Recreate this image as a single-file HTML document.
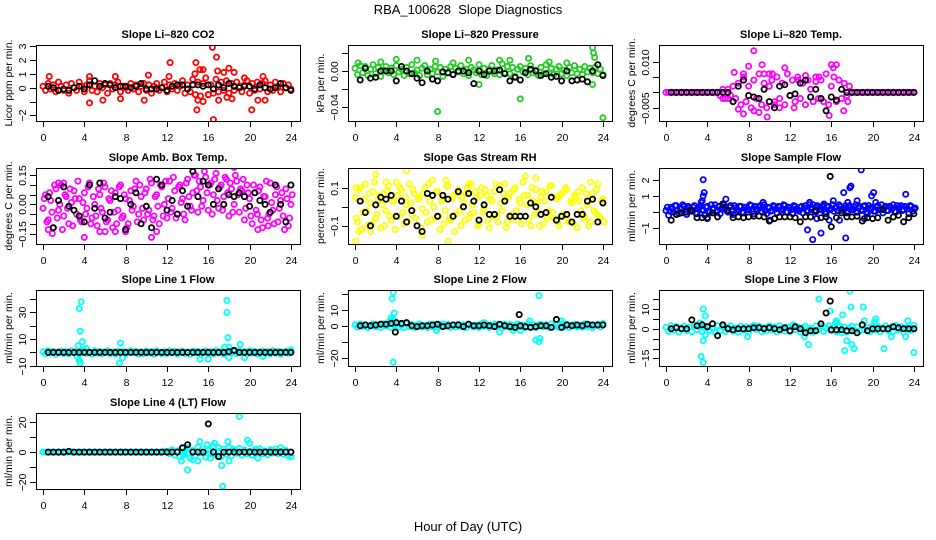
<!DOCTYPE html>
<html><head><meta charset="utf-8"><title>RBA_100628 Slope Diagnostics</title>
<style>
html,body{margin:0;padding:0;background:#fff;}
svg{display:block;font-family:"Liberation Sans",Arial,sans-serif;}
</style></head>
<body>
<svg id="chart" width="936" height="540" viewBox="0 0 936 540">
<text x="468" y="14" text-anchor="middle" font-size="13">RBA_100628&#160; Slope Diagnostics</text>
<text x="468" y="531" text-anchor="middle" font-size="13">Hour of Day (UTC)</text>
</svg>
<script>
// ---------- shared x tick labels ----------
const xTicks = [0,4,8,12,16,20,24];
// ---------- Panel 1: CO2 ----------
const co2Main = [0.1,-0.2,0.3,-0.1,0.2,-0.3,0.4,0.1,-0.2,0.2,-0.4,0.3,0.0,-0.2,0.4,0.1,-0.3,0.2,0.5,-0.2,
0.1,-0.3,0.3,0.0,0.2,-0.4,0.3,-0.1,0.2,0.4,-0.3,0.1,0.0,-0.2,0.3,-0.1,0.2,-0.3,0.1,0.3,
-0.2,0.2,-0.4,0.1,0.3,-0.2,0.0,0.4,-0.3,0.2,-0.1,0.3,-0.2,0.1,0.5,-0.4,0.2,-0.3,0.6,-0.5,
0.4,-0.6,0.3,0.7,-0.5,0.2,-0.4,0.6,-0.3,0.4,-0.2,0.5,-0.4,0.3,-0.2,0.4,0.1,-0.3,0.2,0.5,
-0.4,0.3,-0.2,0.4,-0.1,0.3,0.5,-0.3,0.2,-0.2,0.4,0.1,-0.3,0.3,0.0,0.2,-0.1];
const co2OutX = [0.6,4.5,4.5,5.8,7,7.5,9.8,10.2,12.3,12.2,14.7,14.8,14.9,15.2,15.5,15,16.4,16.5,16.8,16.9,17,17.5,18,18.3,18.5,20.2,20.8,21.3,21.5,19.5,15.5,16,17.8];
const co2OutY = [0.8,-1.1,0.8,-0.9,0.8,-0.8,-0.9,0.9,1.8,0.8,1.0,1.8,-1.6,1.3,1.3,-0.9,2.9,-2.3,2.2,1.2,-0.9,1.1,1.4,-0.8,1.1,-1.6,-0.9,0.8,-0.9,0.7,-1.0,-0.5,-0.7];
const co2Black = [0.1,0.0,-0.2,-0.1,-0.2,0.0,0.1,-0.1,0.2,0.5,0.1,0.3,0.2,0.0,0.1,0.1,0.0,0.1,0.3,-0.1,-0.1,-0.1,0.0,-0.2,0.1,0.2,0.2,-0.1,0.2,0.2,0.1,0.2,-0.1,0.2,0.0,0.3,0.1,0.0,0.1,0.1,-0.1,0.2,0.0,-0.1,0.0,0.3,0.0,-0.2];
// ---------- Panel 2: Pressure ----------
const presMain = [.003,-.004,.006,-.002,.005,-.005,.002,.007,-.003,.004,-.006,.001,.005,-.002,.003,-.004,.006,-.001,.002,-.005,
.004,-.003,.007,-.002,.001,-.005,.003,.006,-.004,.002,-.003,.005,-.001,.004,-.006,.002,-.002,.005,-.004,.003,
-.001,.006,-.003,.002,-.005,.004,.001,-.002,.007,-.004,.003,-.005,.002,.006,-.003,.001,-.004,.008,-.002,.005,
-.003,.004,-.006,.002,.005,-.001,.003,-.004,.006,-.002,.001,-.005,.004,-.003,.007,-.002,.003,-.004,.002,.005,
-.003,.001,-.005,.004,-.002,.006,-.003,.002,-.004,.005,-.001,.003,-.002,.004,-.003,.002,-.004];
const presOutX = [8,12,16,24,23,23.1,23.2,23,4,7.8,11,15,16.8,18.8,6,14,0.3,2.5,9.5,20.5];
const presOutY = [-.045,-.015,-.031,-.052,.026,.02,.015,-.015,.013,.011,.012,.012,.014,.01,.012,.012,.009,.01,.009,.009];
const presBlack = [-.01,.003,-.008,-.007,0,0,0,-.011,.005,0,-.003,-.008,-.013,0,-.009,-.011,-.001,-.002,-.004,0,0,-.002,-.014,0,-.004,0,0,.001,-.003,-.011,-.007,-.01,-.002,.002,0,-.005,-.003,-.007,-.006,-.011,0,-.011,-.01,-.009,-.012,0,.007,-.005];
// ---------- Panel 3: Li-820 Temp ----------
const tempMain = [0,0,0,0,0,0,0,0,0,0,0,0,0,0,0,0,0,0,0,0,
0,-0.001,0.001,-0.002,0.001,-0.001,0.002,-0.002,
0.003,-0.004,0.005,-0.003,0.002,-0.005,0.004,-0.002,0.006,-0.004,0.003,-0.005,0.002,0.004,-0.003,0.005,-0.002,0.003,-0.004,0.006,-0.001,0.004,-0.003,0.005,-0.002,0.003,-0.004,0.004,0.001,-0.003,0.005,-0.002,0.004,-0.003,0.006,-0.004,0.002,0.005,-0.003,0.004,-0.002,0.003,-0.001,0.002,
0,0,0,0,0,0,0,0,0,0,0,0,0,0,0,0,0,0,0,0,0,0,0,0,0];
const tempOutX = [8.5,6.6,7.5,9.3,9.5,10,10.3,13.5,16,16.5,16.2,7,7.5,8.5,9,9.8,10.5,12.4,15.8,17.2,8,11.5,14.5,11,12.8,14.8,5.5,6,17.6];
const tempOutY = [0.0135,0.0065,0.006,0.009,0.006,0.006,0.006,0.0055,0.009,0.009,0.008,-0.0055,-0.007,-0.006,-0.0065,-0.008,-0.004,-0.005,-0.0075,-0.006,0.0085,0.008,0.0035,-0.005,0.004,0.005,-0.002,-0.002,-0.003];
const tempBlack = [0,0,0,0,0,0,0,0,0,0,0,0,-0.003,0.002,0.004,-0.001,-0.0015,-0.002,0.001,-0.003,-0.005,0.002,0.0025,-0.001,-0.0005,0.003,0.004,-0.0015,0.001,-0.002,-0.006,-0.0015,-0.0025,0.001,0,0,0,0,0,0,0,0,0,0,0,0,0,0];
// ---------- Panel 4: Amb Box Temp ----------
const ambMain = [-0.02,0.05,-0.08,0.02,-0.12,0.08,-0.03,0.1,-0.06,0.04,-0.1,0.01,0.07,-0.05,0.03,-0.09,0.06,-0.02,0.11,-0.07,
0.0,-0.11,0.05,-0.04,0.09,-0.08,0.02,-0.12,0.06,-0.03,0.1,-0.06,0.03,-0.1,0.07,-0.01,0.12,-0.05,0.04,-0.08,
0.08,-0.03,0.11,-0.06,0.05,-0.1,0.09,0.0,-0.07,0.12,-0.02,0.07,-0.05,0.1,0.03,-0.08,0.13,-0.01,0.06,0.15,
-0.04,0.09,0.02,0.14,-0.03,0.11,0.05,0.16,-0.02,0.1,0.04,0.13,-0.06,0.08,0.0,0.12,-0.04,0.07,-0.08,0.1,
0.03,-0.1,0.06,-0.05,0.09,-0.12,0.04,-0.07,0.11,-0.03,0.05,-0.09,0.02,-0.06,0.08,-0.11,0.0];
const ambExtra = [0.03,-0.09,0.06,-0.04,0.1,-0.07,0.0,-0.13,0.05,-0.02,0.08,-0.11,0.03,0.12,-0.08,0.01,-0.05,0.09,-0.1,0.04,
-0.06,0.08,-0.02,0.11,-0.09,0.03,0.07,-0.04,-0.1,0.09,-0.07,0.05,-0.12,0.02,-0.03,0.08,-0.09,0.1,-0.02,0.06,
-0.05,0.13,-0.08,0.04,-0.01,0.1,-0.06,0.12,0.03,-0.04,0.14,-0.07,0.09,0.01,-0.05,0.11,0.04,-0.03,0.15,0.07,
0.12,-0.01,0.17,0.06,0.1,-0.05,0.13,0.02,0.09,-0.03,0.14,0.06,0.11,-0.04,0.15,0.05,0.08,0.13,-0.02,0.06,
-0.06,0.1,-0.03,0.07,-0.08,0.04,0.12,-0.05,0.01,-0.1,0.09,-0.02,0.06,-0.13,0.03,-0.07,0.05];
const ambOutX = [4,5.5,6,2,1.5,0.5,10.5,11,8,7,18.5,20.8,22.5,21.8,0.9];
const ambOutY = [-0.17,-0.14,-0.14,0.11,0.11,-0.13,-0.17,-0.14,-0.14,-0.14,0.19,-0.13,0.1,-0.11,-0.15];
const ambBlack = [0.04,-0.12,0.02,0.09,-0.01,-0.03,-0.06,-0.09,0.1,-0.02,0.11,-0.07,-0.04,0.04,0.03,-0.13,0.0,0.06,-0.1,-0.01,-0.12,0.13,0.1,-0.03,0.02,-0.05,0.07,-0.01,0.17,0.04,0.12,0.1,0.0,0.08,0.0,0.05,0.04,0.06,0.04,-0.01,0.06,0.02,0.0,-0.04,0.1,0.0,-0.09,0.1];
// ---------- Panel 5: Gas Stream RH ----------
const rhMain = [0.05,-0.08,0.1,-0.03,0.12,-0.1,0.02,0.08,-0.06,0.04,-0.11,0.07,-0.02,0.11,-0.07,0.03,0.13,-0.05,0.09,-0.09,
0.01,0.12,-0.04,0.07,-0.1,0.05,-0.01,0.1,-0.08,0.03,0.14,-0.06,0.08,-0.12,0.04,-0.02,0.11,-0.07,0.06,-0.04,
0.09,-0.1,0.02,0.07,-0.06,0.12,-0.03,0.05,-0.09,0.1,-0.01,0.06,-0.11,0.03,0.08,-0.05,0.11,-0.02,0.04,-0.08,
0.07,-0.04,0.1,-0.07,0.02,0.13,-0.05,0.06,-0.1,0.03,0.09,-0.03,0.05,-0.09,0.08,-0.02,0.11,-0.06,0.04,-0.1,
0.07,-0.04,0.09,-0.08,0.02,0.06,-0.11,0.03,0.1,-0.05,0.01,-0.08,0.07,-0.03,0.12,-0.06,0.04];
const rhExtra = [-0.06,0.09,-0.12,0.04,-0.02,0.07,-0.09,0.13,-0.04,0.06,0.01,-0.1,0.08,-0.05,0.03,-0.12,0.06,0.1,-0.03,0.05,
-0.08,0.02,0.09,-0.06,0.04,-0.11,0.07,-0.03,0.12,-0.07,0.0,0.08,-0.05,0.03,-0.09,0.11,-0.06,0.04,-0.13,0.07,
-0.02,0.05,-0.07,0.1,-0.04,0.01,0.08,-0.1,0.06,-0.03,0.09,-0.07,0.04,-0.05,0.12,-0.08,0.02,0.07,-0.11,0.05,
-0.06,0.09,-0.02,0.04,-0.09,0.06,0.01,-0.07,0.1,-0.04,0.02,-0.1,0.08,0.03,-0.06,0.11,-0.03,0.05,-0.08,0.06,
-0.04,0.1,-0.07,0.03,-0.09,0.05,0.08,-0.02,-0.06,0.07,-0.1,0.04,-0.02,0.09,-0.05,0.03,-0.08];
const rhOutX = [0.1,0.4,1.5,2,5,6.5,9,8.8,3,17.5,14.5,16.5,22.8,0.1,11];
const rhOutY = [-0.18,-0.13,-0.13,0.17,0.19,-0.15,-0.18,0.14,0.13,0.15,0.12,0.16,0.13,0.1,0.12];
const rhBlack = [0.03,-0.03,-0.1,0.01,0.05,0.04,0.06,-0.05,0.03,-0.08,-0.02,-0.1,-0.13,0.07,0.06,-0.05,0.06,0.04,-0.05,0.08,0.0,0.07,0.03,-0.07,0.01,-0.04,-0.04,0.09,0.03,-0.05,-0.05,-0.05,-0.05,0.02,0.0,-0.04,-0.03,0.05,-0.07,-0.05,-0.04,-0.08,-0.04,-0.04,0.03,0.04,-0.08,0.02];
// ---------- Panel 6: Sample Flow ----------
const sampMain = [0.1,-0.2,0.3,0.0,0.4,-0.1,0.2,0.35,-0.15,0.25,0.05,0.4,-0.1,0.3,0.15,-0.2,0.35,0.0,0.2,0.45,
0.1,-0.1,0.3,0.2,0.0,0.4,-0.15,0.25,0.1,0.35,-0.05,0.3,0.15,0.4,-0.1,0.2,0.3,0.05,0.45,-0.1,
0.25,0.1,0.35,-0.05,0.3,0.2,0.4,0.0,0.25,-0.1,0.35,0.15,0.3,-0.05,0.4,0.1,0.25,0.45,0.0,0.3,
0.15,0.4,-0.1,0.35,0.2,0.05,0.3,0.45,0.1,0.25,-0.05,0.4,0.2,0.3,0.0,0.35,0.15,0.4,-0.1,0.25,
0.3,0.05,0.4,0.2,-0.05,0.35,0.1,0.3,0.45,0.0,0.25,0.4,0.15,0.3,-0.1,0.35,0.2];
const sampExtra = [0.3,0.05,0.2,0.4,0.1,0.25,0.45,0.0,0.35,0.15,0.3,-0.05,0.2,0.4,0.1,0.3,0.05,0.45,0.25,0.0,
0.35,0.2,0.45,0.1,0.3,0.05,0.4,0.15,0.35,0.0,0.3,0.2,0.45,0.05,0.35,0.15,0.4,0.25,0.1,0.3,
0.05,0.4,0.2,0.35,0.1,0.45,0.0,0.3,0.15,0.4,0.2,0.05,0.35,0.25,0.1,0.45,0.3,0.05,0.4,0.2,
0.35,0.0,0.3,0.15,0.45,0.25,0.1,0.35,0.2,0.4,0.05,0.3,0.15,0.45,0.25,0.1,0.35,0.0,0.4,0.2,
0.05,0.3,0.15,0.45,0.25,0.1,0.35,0.2,0.05,0.4,0.3,0.1,0.35,0.2,0.4,0.05,0.25];
const sampOutX = [3.6,3.7,3.6,3.5,3.4,4,5.8,9.4,10.1,13.7,13.9,14.2,14.6,15,15.3,16.2,16.5,17.2,17.4,17.6,17.8,17.9,18.5,18.9,19.9,20.1,20.3,23.2,15.8,19.2,16.8];
const sampOutY = [2.0,1.2,1.0,0.7,0.6,-0.4,0.8,0.6,-0.5,-1.1,0.6,-1.7,-0.4,-1.3,0.5,0.7,0.3,1.2,-1.6,0.6,1.5,1.6,0.7,2.6,1.0,1.2,0.6,1.1,-0.5,-0.4,-0.5];
const sampBlack = [-0.5,-0.15,-0.05,0.0,0.1,-0.35,-0.35,-0.35,-0.05,-0.3,0.5,0.1,-0.35,-0.3,-0.35,-0.3,-0.25,-0.25,-0.3,-0.55,-0.4,-0.3,-0.3,-0.3,-0.35,-0.6,-0.3,-0.3,0.1,-0.35,-0.3,-0.9,-0.35,-0.05,-0.3,-0.3,-0.25,-0.55,-0.35,-0.4,-0.35,0.15,-0.5,-0.3,-0.2,-0.6,-0.35,-0.1];
const sampBlackOutX = [15.9];
const sampBlackOutY = [2.2];
// ---------- Panel 7: Line 1 Flow ----------
const l1Main = [0.5,-1,1.2,-0.5,0.8,-1.3,0.3,1,-0.8,0.6,-1.1,1.4,-0.3,0.9,-1.2,0.4,1.1,-0.7,0.2,-1.4,
1.3,-0.6,0.7,-1,0.5,1.2,-0.9,0.3,-1.3,1,-0.4,0.8,-1.1,0.6,1.4,-0.2,0.9,-1.2,0.4,-0.8,
1.1,-0.5,0.7,-1.3,1.2,0.1,-0.9,0.6,-1,1.3,-0.3,0.8,-1.2,0.5,1,-0.7,0.2,-1.4,1.1,-0.4,
0.9,-1,0.3,1.2,-0.8,0.6,-1.1,1.4,-0.2,0.7,-1.3,0.4,1,-0.6,0.8,-0.9,1.2,-0.3,0.5,-1.1,
1.3,-0.5,0.9,-1.2,0.2,1.1,-0.7,0.6,-1,1.4,-0.4,0.8,-1.3,0.3,1,-0.6,1.5];
const l1OutX = [3.5,3.7,3.6,3.8,3.4,3.5,3.6,7.5,7.4,7.7,4.2,17.8,17.8,17.9,17.6,18,18,15.2,16,19.1,19.5,21.3,24,3.3,3.9];
const l1OutY = [33,38,16,8,5,-6,-8,7,-8,-4,3,30,39,11,4,4,-4,-5,-5,6,-4,-3,2,-3,2];
const l1Black = [0,0,0,0,0,0,0,0,0,0,0,0,0,0,0,0,0,0,0,0,0,0,0,0,0,0,0,0,0,0,0,0,0,0,0,0.5,1.5,0,0,0,0,0,0,0,0,0,0,0];
// ---------- Panel 8: Line 2 Flow ----------
const l2Main = [0.6,-0.9,1.1,-0.4,0.7,-1.2,0.3,1.2,-0.7,0.5,-1,1.3,-0.2,0.9,-1.1,0.5,1,-0.8,0.3,-1.3,
1.2,-0.5,0.8,-1.1,0.4,1.1,-0.8,0.2,-1.2,0.9,-0.5,0.7,-1,0.5,1.3,-0.3,0.8,-1.1,0.5,-0.9,
1,-0.6,0.6,-1.2,1.1,0.2,-0.8,0.5,-1.1,1.2,-0.4,0.7,-1.1,0.6,0.9,-0.8,0.3,-1.3,1,-0.5,
0.8,-1.1,0.4,1.1,-0.7,0.5,-1.2,1.3,-0.3,0.6,-1.2,0.5,0.9,-0.7,0.7,-1,1.1,-0.4,0.6,-1,
1.2,-0.6,0.8,-1.1,0.3,1,-0.8,0.5,-0.9,1.3,-0.5,0.7,-1.2,0.4,0.9,-0.7,1.4];
const l2OutX = [3.7,3.6,3.8,3.7,3.7,17.8,17.5,17.8,17.9,14,16,20,12.5,3.4,3.5,7.9,15.3,16.9];
const l2OutY = [21,17,8,4,-23,19,-9,-10,-8,-4,-3,3,2,3,5,-3,-3,3];
const l2Black = [0,0.5,0,0.5,1,1,1.5,2,1.5,2,0,-0.5,0,0,0.5,1,-0.5,0,0.5,0.5,-0.5,1,0,0,0.5,0,-0.5,1,0,-0.5,-1,0,-0.5,-1,-0.5,0,0,-1,4,-1,0.5,0,0.5,0,1,0.5,0.5,0.5];
const l2BlackOutX = [3.9,15.9];
const l2BlackOutY = [-4,7];
// ---------- Panel 9: Line 3 Flow ----------
const l3Main = [0.8,-1.3,1.5,-0.7,1.1,-1.6,0.4,1.3,-1,0.8,-1.4,1.7,-0.4,1.2,-1.5,0.5,1.4,-0.9,0.3,-1.7,
1.6,-0.8,0.9,-1.3,0.6,1.5,-1.2,0.4,-1.6,1.3,-0.5,1,-1.4,0.8,1.7,-0.3,1.2,-1.5,0.5,-1,
1.4,-0.6,0.9,-1.6,1.5,0.1,-1.2,0.8,-1.3,1.6,-0.4,1,-1.5,0.6,1.3,-0.9,0.3,-1.7,1.4,-0.5,
1.2,-1.3,0.4,1.5,-1,0.8,-1.4,1.7,-0.3,0.9,-1.6,0.5,1.3,-0.8,1,-1.1,1.5,-0.4,0.6,-1.4,
1.6,-0.6,1.2,-1.5,0.3,1.4,-0.9,0.8,-1.3,1.7,-0.5,1,-1.6,0.4,1.3,-0.8,1.8];
const l3OutX = [3.4,3.6,3.6,3.8,3.6,3.3,3.8,7.9,12.3,13.4,13.8,14.8,15.9,16,16.4,17.1,17.3,17.5,17.8,17.9,18,18.2,19.1,19.2,20.3,20.2,21.1,21.8,23.2,23.4,24,16.5,17,16.8];
const l3OutY = [-14,-17,10,6.5,-6,3,-3,-4,2,-4,-8,15,9,-0.5,3,7,-11,-6,19,11,-8,-10,11,4,5,3.5,-10,-4,-4,4,-12,4,-2,1];
const l3Black = [0,0.5,0,0,4.5,1.5,2,1,2.5,-3.5,2,0,-0.5,0,0,0,0.5,0.5,0,0.5,0,-0.5,0.5,-1,1,0,-2,-1,-1,2.5,8,-0.5,-0.5,-0.5,-1,-1,-2,2,-1,0,0,0,0,1,0.5,0,0,0];
const l3BlackOutX = [15.9];
const l3BlackOutY = [14];
// ---------- Panel 10: Line 4 (LT) Flow ----------
const l4Main = [0,0,0,0,0,0,0,0,0,0,0,0,0,0,0,0,0,0,0,0,0,0,0,0,0,0,0,0,0,0,0,0,0,0,0,0,0,0,0,0,0,0,0,0,0,0,0,0.5,
0.5,-1,1.5,-2,0.8,-3,2.5,-1.5,3,-4,1,-2.5,3.5,-0.5,2,-3.5,1.2,-1,4,-2,0.5,-3,2,-1.5,3,-2.5,1,-0.8,2.5,-2,1.5,-1,0.5,-2,1.8,-0.5,2.2,-1.2,0.8,-1.8,1.5,-0.6,2,-1,0.4,-1.5,1.2,-2.5,-3];
const l4OutX = [13.4,13.6,14,14.5,15,15.2,15.9,16.2,16.6,17,17.3,17.4,17.9,18,18.4,19,19.8,20,20.2,20.6,20.8,23,24,16,13.5,13.7,13.8];
const l4OutY = [-6,-2,-12,-5,-6,7,5,-4,6,3,-9,-23,7,-6,2,24,8,6,-2,2,-4,3,-3,-1,0,-1,1];
const l4Black = [0,0,0,0,0.5,0,0,0,0,0,0,0,0,0,0,0,0,0,0,0,0,0,0,0,0,0,3,5,0,0,0,19,0,-3,0,0,0,0,0,0,0,0,0,0,0,0,0,0];

// ---------- panel definitions (layout + series references) ----------
const cols = [36,348,659], rows = [45,168,290,413], boxW = 264, boxH = 76;
const panels = [
 {name:'co2',title:'Slope Li\u2013820 CO2',ylab:'Licor ppm per min.',c:0,r:0,y0:-2.4,y1:3.07,col:'#ff0000',
  ticks:[-2,-1,0,1,2,3],labels:['\u22122','','0','1','2','3'],main:[co2Main],ox:co2OutX,oy:co2OutY,black:co2Black},
 {name:'pressure',title:'Slope Li\u2013820 Pressure',ylab:'kPa per min.',c:1,r:0,y0:-0.0556,y1:0.0289,col:'#22cc22',
  ticks:[-0.04,-0.02,0,0.02],labels:['\u22120.04','','0.00',''],main:[presMain],ox:presOutX,oy:presOutY,black:presBlack},
 {name:'li820-temp',title:'Slope Li\u2013820 Temp.',ylab:'degrees C per min.',c:2,r:0,y0:-0.0093,y1:0.0154,col:'#ff00ff',
  ticks:[-0.005,0,0.005,0.01],labels:['\u22120.005','','','0.010'],main:[tempMain],ox:tempOutX,oy:tempOutY,black:tempBlack},
 {name:'amb-box-temp',title:'Slope Amb. Box Temp.',ylab:'degrees C per min.',c:0,r:1,y0:-0.204,y1:0.1875,col:'#ff00ff',
  ticks:[-0.15,-0.1,-0.05,0,0.05,0.1,0.15],labels:['\u22120.15','','','0.00','','','0.15'],main:[ambMain,ambExtra],ox:ambOutX,oy:ambOutY,black:ambBlack},
 {name:'gas-stream-rh',title:'Slope Gas Stream RH',ylab:'percent per min.',c:1,r:1,y0:-0.196,y1:0.204,col:'#ffff00',
  ticks:[-0.1,0,0.1],labels:['\u22120.1','','0.1'],main:[rhMain,rhExtra],ox:rhOutX,oy:rhOutY,black:rhBlack},
 {name:'sample-flow',title:'Slope Sample Flow',ylab:'ml/min per min.',c:2,r:1,y0:-1.97,y1:2.72,col:'#0000ff',
  ticks:[-1,0,1,2],labels:['\u22121','','1','2'],main:[sampMain,sampExtra],ox:sampOutX,oy:sampOutY,black:sampBlack,bx:sampBlackOutX,by:sampBlackOutY},
 {name:'line1-flow',title:'Slope Line 1 Flow',ylab:'ml/min per min.',c:0,r:2,y0:-10.2,y1:46.9,col:'#00ffff',
  ticks:[-10,0,10,20,30,40],labels:['\u221210','','10','','30',''],main:[l1Main],ox:l1OutX,oy:l1OutY,black:l1Black},
 {name:'line2-flow',title:'Slope Line 2 Flow',ylab:'ml/min per min.',c:1,r:2,y0:-25.3,y1:22.5,col:'#00ffff',
  ticks:[-20,-10,0,10,20],labels:['\u221220','','0','10',''],main:[l2Main],ox:l2OutX,oy:l2OutY,black:l2Black,bx:l2BlackOutX,by:l2BlackOutY},
 {name:'line3-flow',title:'Slope Line 3 Flow',ylab:'ml/min per min.',c:2,r:2,y0:-18.8,y1:19.6,col:'#00ffff',
  ticks:[-15,-10,-5,0,5,10,15],labels:['\u221215','','','0','','10',''],main:[l3Main],ox:l3OutX,oy:l3OutY,black:l3Black,bx:l3BlackOutX,by:l3BlackOutY},
 {name:'line4-flow',title:'Slope Line 4 (LT) Flow',ylab:'ml/min per min.',c:0,r:3,y0:-24.8,y1:26.3,col:'#00ffff',
  ticks:[-20,-10,0,10,20],labels:['\u221220','','0','','20'],main:[l4Main],ox:l4OutX,oy:l4OutY,black:l4Black}
];

const NS='http://www.w3.org/2000/svg';
const svg=document.getElementById('chart');
function mk(tag,attrs,parent){const e=document.createElementNS(NS,tag);for(const k in attrs)e.setAttribute(k,attrs[k]);(parent||svg).appendChild(e);return e;}

panels.forEach(p=>{
  const L=cols[p.c], T=rows[p.r], B=T+boxH, R=L+boxW;
  const xs=h=>L+7+h*10.33;
  const ys=v=>B-(v-p.y0)/(p.y1-p.y0)*boxH;
  const g=mk('g',{});
  
  
  const t=mk('text',{x:(L+R)/2,y:T-7,'text-anchor':'middle','font-size':11,'font-weight':'bold'},g);
  t.textContent=p.title;
  
  
  const pts=mk('g',{fill:'none','stroke-width':1.8},g);
  
  
  const clipId='clip-'+p.name;
  const cp=mk('clipPath',{id:clipId},g); mk('rect',{x:L,y:T,width:boxW,height:boxH},cp);
  pts.setAttribute('clip-path','url(#'+clipId+')');
  const dot=(x,y,col,nm)=>{const c=mk('circle',{cx:xs(x).toFixed(1),cy:ys(y).toFixed(1),r:2.6,stroke:col},pts);
    
    };
  p.main.forEach((arr,k)=>arr.forEach((v,i)=>dot(i*0.25+k*0.125,v,p.col,p.name+'-point')));
  p.ox.forEach((x,i)=>dot(x,p.oy[i],p.col,p.name+'-outlier'));
  p.black.forEach((v,i)=>dot((i+1)*0.5,v,'#000',p.name+'-black-point'));
  if(p.bx) p.bx.forEach((x,i)=>dot(x,p.by[i],'#000',p.name+'-black-point'));
  const box=mk('rect',{x:L+0.5,y:T+0.5,width:boxW,height:boxH,fill:'none',stroke:'#000','stroke-width':1},g);
  
  
  const xa=mk('g',{},g);
  
  
  mk('line',{x1:xs(0),x2:xs(24),y1:B+0.5,y2:B+0.5,stroke:'#000'},xa);
  xTicks.forEach(h=>{const x=Math.round(xs(h))+0.5;mk('line',{x1:x,x2:x,y1:B,y2:B+6,stroke:'#000'},xa);
    const tl=mk('text',{x:x,y:B+20,'text-anchor':'middle','font-size':10.5},xa);tl.textContent=h;
    
    });
  const ya=mk('g',{},g);
  
  
  const tv=p.ticks;
  mk('line',{x1:L+0.5,x2:L+0.5,y1:ys(tv[0]),y2:ys(tv[tv.length-1]),stroke:'#000'},ya);
  tv.forEach((v,i)=>{const y=Math.round(ys(v))+0.5;mk('line',{x1:L-6,x2:L,y1:y,y2:y,stroke:'#000'},ya);
    if(p.labels[i]){const tl=mk('text',{x:0,y:0,'text-anchor':'middle','font-size':10.5,transform:`translate(${L-10},${y}) rotate(-90)`},ya);tl.textContent=p.labels[i];
    
    }});
  const yl=mk('text',{x:0,y:0,'text-anchor':'middle','font-size':10.5,transform:`translate(${L-24},${T+boxH/2}) rotate(-90)`},g);
  yl.textContent=p.ylab;
  
  
});
</script>
</body></html>
